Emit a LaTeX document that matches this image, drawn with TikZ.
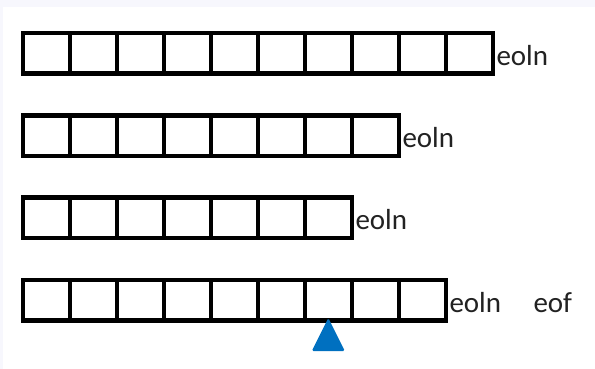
\documentclass[tikz,border=0pt]{standalone}
\usepackage{fontspec}
\setmainfont{Carlito}
\definecolor{pagetint}{HTML}{F7F7FD}
\definecolor{markblue}{HTML}{0070C0}
\definecolor{labelink}{HTML}{222222}
\begin{document}
\begin{tikzpicture}[x=1pt,y=-1pt,
  cell/.style={draw=black,line width=4.5pt,fill=white,minimum width=47pt,minimum height=40.5pt,inner sep=0pt,outer sep=0pt},
  marklabel/.style={anchor=base west,inner sep=0pt,text=labelink,font=\fontsize{29}{34}\selectfont}]
  % canvas with a faint tinted margin on the top and left
  \fill[pagetint] (0,0) rectangle (595,369);
  \fill[white] (3,7) rectangle (595,369);
  \useasboundingbox (0,0) rectangle (595,369);
  % four lines of the file: row / number of cells / vertical centre
  \foreach \r/\n/\yc in {1/10/53.25, 2/8/135.9, 3/7/217.5, 4/9/300.25}{
    \foreach \c in {1,...,\n}{
      \node[cell] (r\r c\c) at ({22.8+47*(\c-0.5)},\yc) {};
    }
    \node[marklabel] (eoln\r) at ([xshift=3.5pt,yshift=-12pt]r\r c\n.center -| r\r c\n.east) {eoln};
  }
  \node[marklabel] (eof) at ([xshift=84pt]eoln4.base west) {eof};
  % file pointer under the seventh cell of the last line
  \coordinate (tip) at ([yshift=2.5pt]r4c7.south);
  \fill[markblue,rounded corners=1.5pt] (tip) -- ++(16.5,33) -- ++(-33,0) -- cycle;
\end{tikzpicture}
\end{document}
